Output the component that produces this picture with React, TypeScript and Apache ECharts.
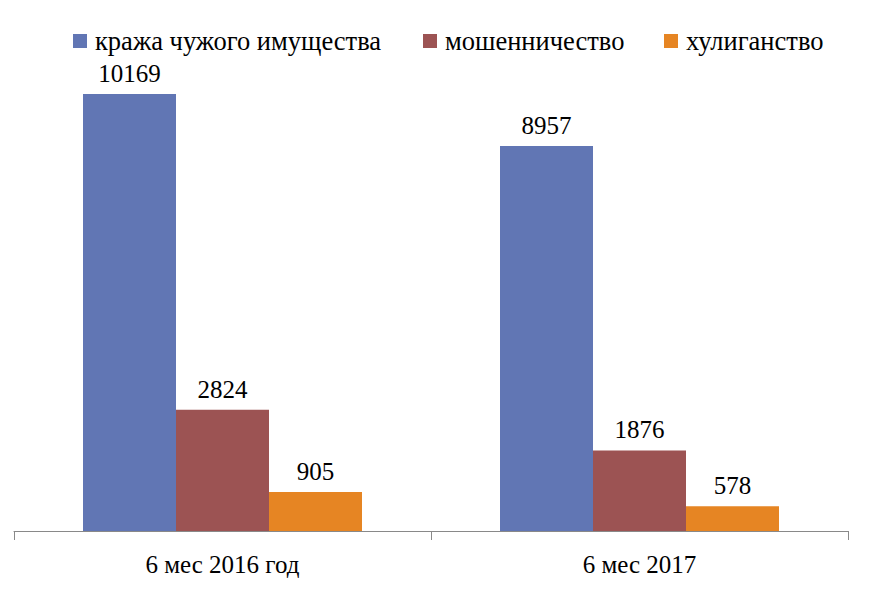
import React, { useEffect, useRef } from "react";
import * as echarts from "echarts";

const categories = ["6 мес 2016 год", "6 мес 2017"];
const seriesNames = ["кража чужого имущества", "мошенничество", "хулиганство"];
const theft = [10169, 8957];
const fraud = [2824, 1876];
const hooliganism = [905, 578];
const colors = ["#6176B4", "#9C5353", "#E68523"];

const FONT = "Liberation Serif";

export default function App() {
  const ref = useRef<HTMLDivElement>(null);
  useEffect(() => {
    if (!ref.current) return;
    const chart = echarts.init(ref.current, undefined, { renderer: "svg" });
    const values = [theft, fraud, hooliganism];
    const legendLefts = [73, 423, 664];
    chart.setOption({
      animation: false,
      textStyle: { fontFamily: FONT },
      legend: seriesNames.map((n, i) => ({
        data: [n],
        left: legendLefts[i],
        top: 27.5,
        itemWidth: 14,
        itemHeight: 14,
        itemGap: 8,
        icon: "rect",
        padding: 0,
        textStyle: { fontFamily: FONT, fontSize: 26.5, color: "#000", padding: [0, 0, 0, 3] },
      })),
      grid: { left: 14, right: 21, top: 15.3, bottom: 59, containLabel: false },
      xAxis: {
        type: "category",
        data: categories,
        axisLine: { lineStyle: { color: "#898989", width: 1 } },
        axisTick: { show: true, length: 9, lineStyle: { color: "#898989" } },
        axisLabel: { color: "#000", fontFamily: FONT, fontSize: 25, margin: 21 },
      },
      yAxis: { type: "value", min: 0, max: 12000, show: false, splitLine: { show: false } },
      series: seriesNames.map((n, i) => ({
        name: n,
        type: "bar",
        data: values[i],
        barWidth: 93,
        barGap: "0%",
        itemStyle: { color: colors[i] },
        label: {
          show: true,
          position: "top",
          distance: 8,
          color: "#000",
          fontFamily: FONT,
          fontSize: 25,
        },
      })),
    });
    return () => chart.dispose();
  }, []);
  return <div ref={ref} style={{ width: 869, height: 590, position: "absolute", left: 0, top: 0 }} />;
}
